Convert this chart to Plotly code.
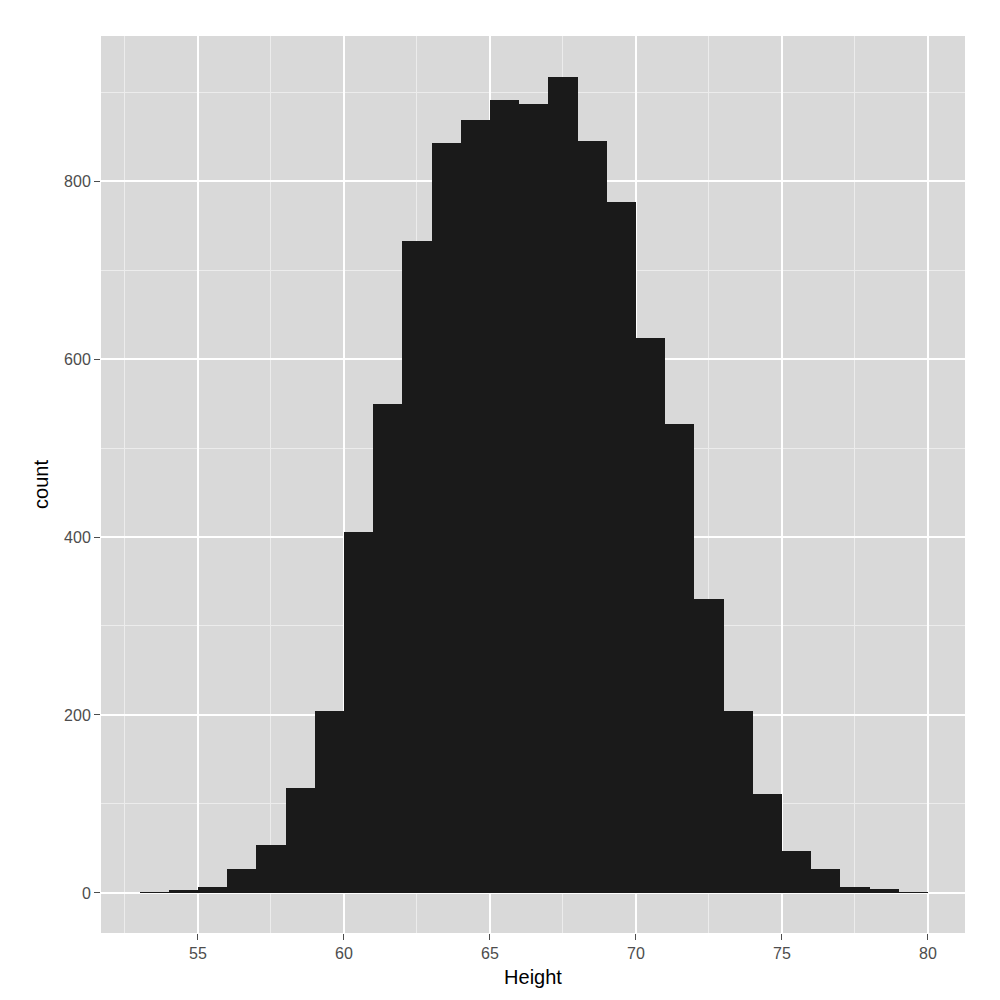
import plotly.graph_objects as go

# Histogram of Height, binwidth 1
bin_left = list(range(53, 80))
counts = [1, 3, 7, 27, 54, 118, 204, 406, 550, 733, 843, 869, 891, 887, 917,
          845, 777, 624, 527, 330, 204, 111, 47, 27, 7, 5, 1]
x_ticks = [55, 60, 65, 70, 75, 80]
y_ticks = [0, 200, 400, 600, 800]

fig = go.Figure(go.Bar(
    x=[b + 0.5 for b in bin_left], y=counts, width=1,
    marker=dict(color="#1a1a1a", line=dict(width=0)),
))

fig.update_layout(
    width=1000, height=1000,
    plot_bgcolor="#d9d9d9", paper_bgcolor="white",
    margin=dict(l=93, r=43, t=28, b=75),
    font=dict(family="Liberation Sans, Arial", size=16, color="#4d4d4d"),
    showlegend=False, bargap=0,
    xaxis=dict(range=[51.68, 81.27], tickvals=x_ticks, ticks="outside",
               ticklen=6, tickcolor="#4d4d4d", gridcolor="white", gridwidth=2,
               zeroline=False,
               minor=dict(tickvals=[52.5, 57.5, 62.5, 67.5, 72.5, 77.5],
                          gridcolor="#ececec", gridwidth=1, ticks=""),
               title=dict(text="Height", font=dict(size=20, color="black"), standoff=8)),
    yaxis=dict(range=[-45, 963], tickvals=y_ticks, ticks="outside",
               ticklen=6, tickcolor="#4d4d4d", gridcolor="white", gridwidth=2,
               zeroline=False,
               minor=dict(tickvals=[100, 300, 500, 700, 900],
                          gridcolor="#ececec", gridwidth=1, ticks=""),
               title=dict(text="count", font=dict(size=20, color="black"), standoff=10)),
)

fig.write_html("out.html")
